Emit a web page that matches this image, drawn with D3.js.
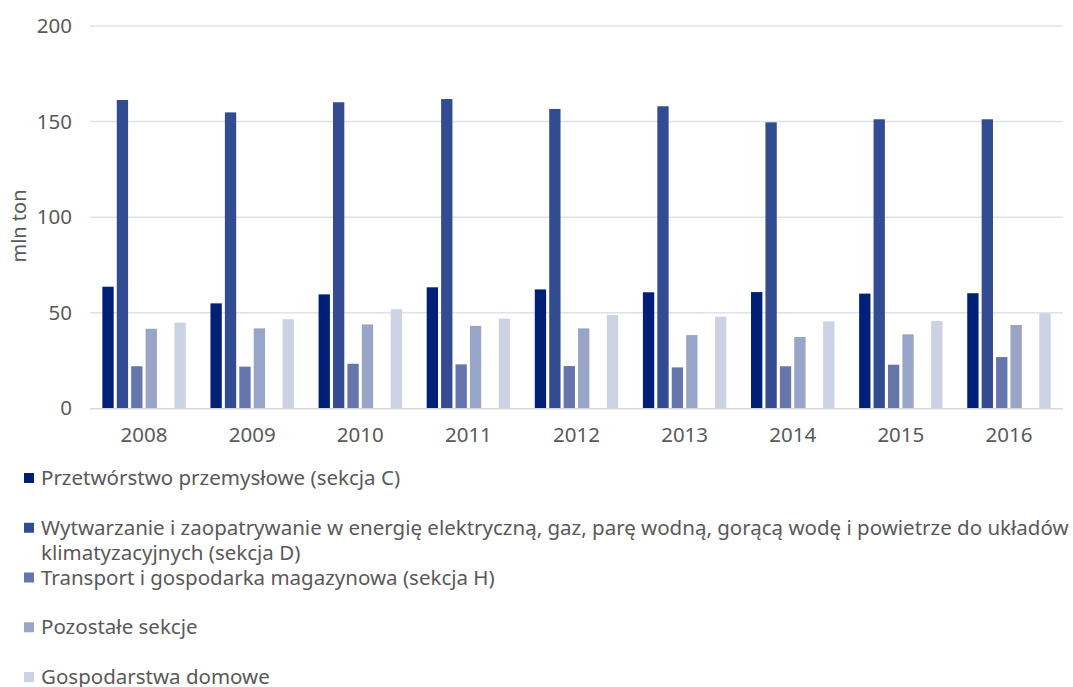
<!DOCTYPE html>
<html>
<head>
<meta charset="utf-8">
<script src="https://cdn.jsdelivr.net/npm/d3@7"></script>
<style>
  html, body { margin: 0; padding: 0; background: #fff; }
  svg { display: block; font-family: "Noto Sans", "Open Sans", sans-serif; }
</style>
</head>
<body>
<svg id="chart" width="1073" height="687"></svg>
<script>
// Emisja według sekcji gospodarki, mln ton
const years = ["2008", "2009", "2010", "2011", "2012", "2013", "2014", "2015", "2016"];

const seriesNames = [
  "Przetwórstwo przemysłowe (sekcja C)",
  "Wytwarzanie i zaopatrywanie w energię elektryczną, gaz, parę wodną, gorącą wodę i powietrze do układów klimatyzacyjnych (sekcja D)",
  "Transport i gospodarka magazynowa (sekcja H)",
  "Pozostałe sekcje",
  "Gospodarstwa domowe"
];

const sekcjaC      = [63.6, 54.9, 59.6, 63.3, 62.2, 60.7, 60.8, 60.0, 60.2];
const sekcjaD      = [161.3, 154.8, 160.1, 161.8, 156.6, 158.0, 149.6, 151.2, 151.2];
const sekcjaH      = [22.0, 21.8, 23.3, 23.0, 22.1, 21.4, 22.0, 22.8, 26.8];
const pozostale    = [41.6, 41.8, 43.9, 43.1, 41.8, 38.3, 37.3, 38.7, 43.6];
const gospodarstwa = [44.8, 46.6, 51.8, 46.9, 48.8, 47.9, 45.5, 45.7, 49.7];

const yTicks = [0, 50, 100, 150, 200];

const colors = ["#001F77", "#334B91", "#6676AC", "#99A5C8", "#CCD2E4"];

// six slots per year; the fifth slot stays empty
const slots = ["s0", "s1", "s2", "s3", "s4", "s5"];
const seriesSlot = ["s0", "s1", "s2", "s3", "s5"];
const seriesValues = [sekcjaC, sekcjaD, sekcjaH, pozostale, gospodarstwa];

const svg = d3.select("#chart");
const margin = { left: 90, top: 26, plotBottom: 408.3 };
const plotRight = 1063;
const fontSize = 20.5;

const x = d3.scaleBand().domain(years).range([margin.left, plotRight]).padding(0);
const xInner = d3.scaleBand().domain(slots).range([0, x.bandwidth()])
  .paddingInner(0.215).paddingOuter(0.857);
const y = d3.scaleLinear().domain([0, 200]).range([margin.plotBottom, margin.top]);

const textColor = "#595959";

// gridlines
svg.append("g")
  .selectAll("line")
  .data(yTicks.filter(d => d > 0))
  .join("line")
  .attr("x1", margin.left).attr("x2", plotRight)
  .attr("y1", d => y(d)).attr("y2", d => y(d))
  .attr("stroke", "#DEE2EB").attr("stroke-width", 1.5);

// y axis labels
const yAxis = d3.axisLeft(y).tickValues(yTicks).tickSize(0).tickPadding(18).tickFormat(d3.format("d"));
const gy = svg.append("g").attr("transform", `translate(${margin.left},0)`).call(yAxis);
gy.select(".domain").remove();
gy.selectAll("text").attr("fill", textColor).attr("font-size", fontSize)
  .attr("font-family", "Noto Sans, sans-serif");

// bars
const groups = svg.append("g").selectAll("g")
  .data(years)
  .join("g")
  .attr("transform", d => `translate(${x(d)},0)`);

groups.selectAll("rect")
  .data((yr, i) => seriesValues.map((vals, s) => ({ s, v: vals[i] })))
  .join("rect")
  .attr("x", d => xInner(seriesSlot[d.s]))
  .attr("width", xInner.bandwidth())
  .attr("y", d => y(d.v))
  .attr("height", d => y(0) - y(d.v))
  .attr("fill", d => colors[d.s]);

// baseline
svg.append("line")
  .attr("x1", margin.left).attr("x2", plotRight)
  .attr("y1", y(0) + 0.5).attr("y2", y(0) + 0.5)
  .attr("stroke", "#D9D9D9").attr("stroke-width", 1.5);

// x axis labels
const xAxis = d3.axisBottom(x).tickSize(0).tickPadding(19);
const gx = svg.append("g").attr("transform", `translate(0,${y(0)})`).call(xAxis);
gx.select(".domain").remove();
gx.selectAll("text").attr("fill", textColor).attr("font-size", fontSize)
  .attr("font-family", "Noto Sans, sans-serif");

// y axis title
svg.append("text")
  .attr("transform", "translate(26,226) rotate(-90)")
  .attr("text-anchor", "middle")
  .attr("fill", textColor)
  .attr("font-size", 20)
  .text("mln ton");

// legend
const legend = svg.append("g");
const legendX = 24, textX = 41, legendY0 = 478, legendStep = 49.75, lineH = 25, maxW = 1073 - textX;

seriesNames.forEach((name, i) => {
  const cy = legendY0 + i * legendStep;
  legend.append("rect")
    .attr("x", legendX).attr("y", cy - 5)
    .attr("width", 10).attr("height", 10)
    .attr("fill", colors[i]);
  const t = legend.append("text")
    .attr("fill", textColor)
    .attr("font-size", fontSize);
  // wrap on word boundaries
  const words = name.split(" ");
  let line = [];
  let tspan = t.append("tspan").attr("x", textX).attr("y", cy).attr("dy", "0.35em");
  let lineNo = 0;
  words.forEach(w => {
    line.push(w);
    tspan.text(line.join(" "));
    if (tspan.node().getComputedTextLength() > maxW && line.length > 1) {
      line.pop();
      tspan.text(line.join(" "));
      line = [w];
      lineNo++;
      tspan = t.append("tspan").attr("x", textX).attr("y", cy + lineNo * lineH).attr("dy", "0.35em").text(w);
    }
  });
});
</script>
</body>
</html>
